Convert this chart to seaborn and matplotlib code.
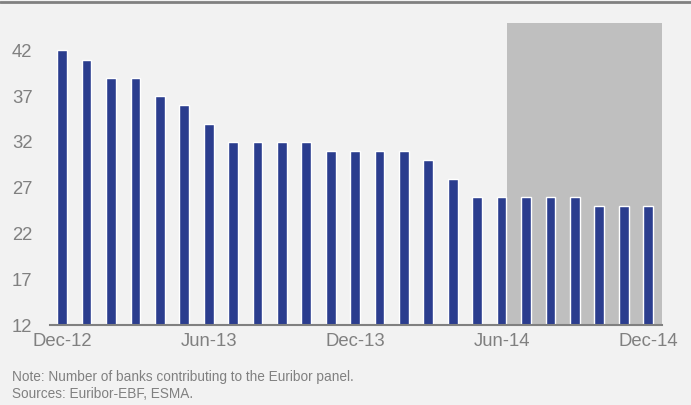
import matplotlib
matplotlib.use("Agg")
import matplotlib.pyplot as plt
from matplotlib.lines import Line2D
import seaborn as sns
import pandas as pd

months = ["Dec-12", "Jan-13", "Feb-13", "Mar-13", "Apr-13", "May-13", "Jun-13",
          "Jul-13", "Aug-13", "Sep-13", "Oct-13", "Nov-13", "Dec-13",
          "Jan-14", "Feb-14", "Mar-14", "Apr-14", "May-14", "Jun-14",
          "Jul-14", "Aug-14", "Sep-14", "Oct-14", "Nov-14", "Dec-14"]
banks = [42, 41, 39, 39, 37, 36, 34, 32, 32, 32, 32, 31, 31,
         31, 31, 30, 28, 26, 26, 26, 26, 26, 25, 25, 25]
tick_labels = ["Dec-12", "Jun-13", "Dec-13", "Jun-14", "Dec-14"]
yticks = [12, 17, 22, 27, 32, 37, 42]

BG = "#f2f2f2"
GREY = "#808080"
BAR = "#2b3d8e"

sns.set_style("white")
plt.rcParams["font.family"] = ["Liberation Sans", "DejaVu Sans"]

fig = plt.figure(figsize=(6.91, 4.05), dpi=100, facecolor=BG)
ax = fig.add_axes([50 / 691, 80 / 405, 612 / 691, 302 / 405])
ax.set_facecolor(BG)

df = pd.DataFrame({"month": months, "banks": banks})

# shaded region
ax.axvspan(18.22, 24.6, color="#bfbfbf", zorder=0, lw=0)

sns.barplot(data=df, x="month", y="banks", order=months, color=BAR,
            width=0.4, saturation=1, ax=ax, zorder=2)

ax.set_xlim(-0.5, 24.57)
ax.set_ylim(12, 45)
ax.set_yticks(yticks)
ax.set_yticklabels([str(v) for v in yticks])
tick_pos = [months.index(t) for t in tick_labels]
ax.set_xticks(tick_pos)
ax.set_xticklabels(tick_labels)
ax.set_xlabel("")
ax.set_ylabel("")

for s in ["top", "right", "left"]:
    ax.spines[s].set_visible(False)
ax.spines["bottom"].set_color(GREY)
ax.spines["bottom"].set_linewidth(1.5)
ax.spines["bottom"].set_zorder(3)

ax.tick_params(axis="y", length=0, pad=0, labelsize=13.3, labelcolor=GREY)
ax.tick_params(axis="x", length=0, pad=6, labelsize=13.3, labelcolor=GREY)
for lab in ax.get_yticklabels():
    lab.set_horizontalalignment("left")
    lab.set_x(-38 / 612)

fig.add_artist(Line2D([0, 1], [1 - 1.5 / 405, 1 - 1.5 / 405], color=GREY,
                      lw=2, transform=fig.transFigure))

fig.text(12 / 691, 1 - 377 / 405, "Note: Number of banks contributing to the Euribor panel.",
         fontsize=9.8, color=GREY, va="center", ha="left")
fig.text(12 / 691, 1 - 394 / 405, "Sources: Euribor-EBF, ESMA.",
         fontsize=9.8, color=GREY, va="center", ha="left")

fig.savefig("out.png", dpi=100, facecolor=BG)
